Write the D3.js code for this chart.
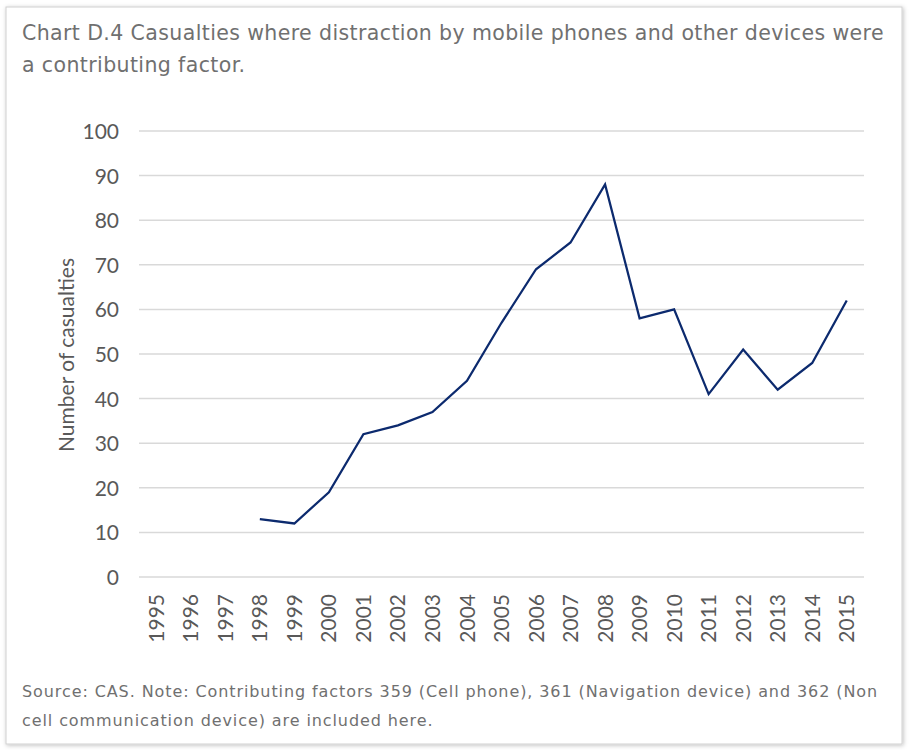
<html lang="en">
  <head>
    <meta charset="UTF-8" />
    <title>Chart D.4</title>
    <script src="https://d3js.org/d3.v7.min.js"></script>
  </head>
  <style>
    body {
      margin: 0px;
      overflow: hidden;
      background: #fff;
    }
    .title, .note {
      font-family: "DejaVu Sans", sans-serif;
      fill: #707070;
    }
    .axis text, .ylabel {
      font-family: Lato, "Open Sans", sans-serif;
      font-size: 21px;
      fill: #595959;
    }
  </style>
  <body>
    <svg width="909" height="750"></svg>
    <script>
      var years = ["1995", "1996", "1997", "1998", "1999", "2000", "2001", "2002", "2003", "2004",
        "2005", "2006", "2007", "2008", "2009", "2010", "2011", "2012", "2013", "2014", "2015"];
      var casualties = [null, null, null, 13, 12, 19, 32, 34, 37, 44, 57, 69, 75, 88, 58, 60, 41, 51, 42, 48, 62];
      var yTicks = [0, 10, 20, 30, 40, 50, 60, 70, 80, 90, 100];

      var svg = d3.select("svg");

      // frame with soft shadow
      var defs = svg.append("defs");
      var f = defs.append("filter").attr("id", "shadow").attr("x", "-5%").attr("y", "-5%").attr("width", "110%").attr("height", "110%");
      f.append("feDropShadow").attr("dx", 1).attr("dy", 1).attr("stdDeviation", 2).attr("flood-color", "#000").attr("flood-opacity", 0.25);
      svg.append("rect").attr("x", 6).attr("y", 7).attr("width", 896).attr("height", 737)
        .attr("fill", "#fff").attr("stroke", "#d0d0d0").attr("filter", "url(#shadow)");

      // two-line text block, spaced so the first line spans the given width
      function textBlock(lines, yPos, size, width) {
        var nodes = lines.map(function (t, i) {
          return svg.append("text").attr("class", "title").attr("x", 22).attr("y", yPos[i])
            .attr("font-size", size).text(t);
        });
        var w = nodes[0].node().getComputedTextLength();
        var ls = (width - w) / lines[0].length;
        nodes.forEach(function (n) { n.attr("letter-spacing", ls); });
      }

      textBlock(["Chart D.4 Casualties where distraction by mobile phones and other devices were",
        "a contributing factor."], [40, 72], 20.5, 862);
      textBlock(["Source: CAS. Note: Contributing factors 359 (Cell phone), 361 (Navigation device) and 362 (Non",
        "cell communication device) are included here."], [697, 726], 16, 856);

      var x = d3.scaleBand().domain(years).range([139, 864]);
      var y = d3.scaleLinear().domain([0, 100]).range([577, 131]);

      // gridlines
      svg.append("g").selectAll("line").data(yTicks).enter().append("line")
        .attr("x1", 139).attr("x2", 864)
        .attr("y1", function (d) { return y(d); }).attr("y2", function (d) { return y(d); })
        .attr("stroke", "#d9d9d9").attr("stroke-width", 1.5);

      var yAxis = svg.append("g").attr("class", "axis")
        .attr("transform", "translate(139,0)")
        .call(d3.axisLeft(y).tickValues(yTicks).tickSize(0).tickPadding(20));
      yAxis.select(".domain").remove();
      yAxis.selectAll("text").attr("dy", "0.36em");

      var xAxis = svg.append("g").attr("class", "axis")
        .attr("transform", "translate(0,577)")
        .call(d3.axisBottom(x).tickSize(0));
      xAxis.select(".domain").remove();
      xAxis.selectAll("text")
        .attr("transform", "rotate(-90)")
        .attr("text-anchor", "end")
        .attr("x", -17).attr("y", 0).attr("dy", "0.36em");

      svg.append("text").attr("class", "ylabel")
        .attr("transform", "translate(74,355) rotate(-90)")
        .attr("text-anchor", "middle")
        .text("Number of casualties");

      var line = d3.line()
        .defined(function (d) { return d != null; })
        .x(function (d, i) { return x(years[i]) + x.bandwidth() / 2; })
        .y(function (d) { return y(d); });

      svg.append("path").datum(casualties)
        .attr("d", line)
        .attr("fill", "none")
        .attr("stroke", "#0c2a6e")
        .attr("stroke-width", 2.25)
        .attr("stroke-linejoin", "miter");
    </script>
  </body>
</html>
